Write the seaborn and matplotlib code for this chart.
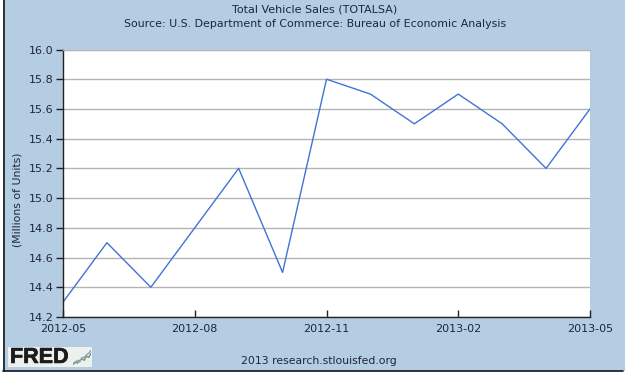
import matplotlib
matplotlib.use('Agg')
import matplotlib.pyplot as plt
import matplotlib.patheffects as pe
from matplotlib.lines import Line2D
from matplotlib.patches import Rectangle
import seaborn as sns
import pandas as pd

# monthly sales, millions of units
months = ['2012-05', '2012-06', '2012-07', '2012-08', '2012-09', '2012-10', '2012-11',
          '2012-12', '2013-01', '2013-02', '2013-03', '2013-04', '2013-05']
sales = [14.3, 14.7, 14.4, 14.8, 15.2, 14.5, 15.8, 15.7, 15.5, 15.7, 15.5, 15.2, 15.6]
yticks = [14.2, 14.4, 14.6, 14.8, 15.0, 15.2, 15.4, 15.6, 15.8, 16.0]
xlabels = ['2012-05', '2012-08', '2012-11', '2013-02', '2013-05']

# little chart in the logo
logo_a = [0, 2, 1, 3, 4, 3, 6, 5, 8]
logo_b = [1, 1, 3, 2, 5, 5, 7, 8, 10]

bg = '#b5cde3'
txt = '#1c2838'
W, H = 625, 374

sns.set_style('white')
plt.rcParams['font.family'] = ['DejaVu Sans']

df = pd.DataFrame({'month': months, 'sales': sales})
df['pos'] = range(len(df))

fig = plt.figure(figsize=(W / 100, H / 100), dpi=100, facecolor='white')
fig.patches.append(Rectangle((3 / W, 3 / H), 622 / W, 371 / H, transform=fig.transFigure,
                             facecolor=bg, edgecolor='none', zorder=-5))
# only left and bottom edges are dark
fig.add_artist(Line2D([3.5 / W, 3.5 / W], [3 / H, 1], color='#10151c', linewidth=1.2))
fig.add_artist(Line2D([3 / W, 623 / W], [3.5 / H, 3.5 / H], color='#10151c', linewidth=1.2))

ax = fig.add_axes([63 / W, 1 - 317 / H, 527 / W, 267.5 / H])
ax.set_facecolor('white')
sns.lineplot(data=df, x='pos', y='sales', color='#3f74d6', linewidth=1.0, ax=ax)
ax.set_xlim(0, len(months) - 1)
ax.set_ylim(14.2, 16.0)
ax.set_yticks(yticks)
ax.set_yticklabels(['%.1f' % v for v in yticks], fontsize=8, color=txt)
ax.set_xticks([months.index(m) for m in xlabels])
ax.set_xticklabels(xlabels, fontsize=8, color=txt)
ax.grid(axis='y', color='#b4b4b4', linewidth=1.0)
ax.grid(axis='x', visible=False)
ax.set_axisbelow(True)
ax.tick_params(axis='y', direction='out', length=5, width=1, color='#222222', pad=2, left=True)
ax.tick_params(axis='x', direction='in', length=5, width=1, color='#222222', pad=5, bottom=True)
ax.spines['right'].set_visible(False)
ax.spines['top'].set_color('#b4b4b4')
for s in ['left', 'bottom']:
    ax.spines[s].set_color('#222222')
    ax.spines[s].set_linewidth(1.0)
ax.set_xlabel('')
ax.set_ylabel('(Millions of Units)', fontsize=7.8, color=txt, labelpad=4, y=0.44)

fig.text(315 / W, 1 - 9 / H, 'Total Vehicle Sales (TOTALSA)', ha='center', va='center',
         fontsize=8, color=txt)
fig.text(315 / W, 1 - 24 / H, 'Source: U.S. Department of Commerce: Bureau of Economic Analysis',
         ha='center', va='center', fontsize=7.9, color=txt)
fig.text(319 / W, 1 - 361 / H, '2013 research.stlouisfed.org', ha='center', va='center',
         fontsize=7.8, color=txt)

# FRED logo
logo = fig.add_axes([8 / W, 1 - 367 / H, 84 / W, 20 / H])
logo.set_xlim(0, 84)
logo.set_ylim(0, 20)
logo.axis('off')
logo.add_patch(Rectangle((0, 0), 84, 20, facecolor='#eef0ee', edgecolor='none'))
t = logo.text(2, 9.6, 'FRED', fontsize=15.5, fontweight='bold', family='Liberation Sans',
              color='#1c1c1c', va='center', ha='left')
t.set_path_effects([pe.withStroke(linewidth=0.5, foreground='#1c1c1c')])

icon = fig.add_axes([73 / W, 1 - 366 / H, 18 / W, 17 / H])
icon.axis('off')
sns.lineplot(x=range(len(logo_a)), y=logo_a, color='#6f9a6a', linewidth=1, ax=icon)
sns.lineplot(x=range(len(logo_b)), y=logo_b, color='#8a9fb8', linewidth=1, ax=icon)
icon.margins(0)
icon.set_ylim(-1, 11)

fig.savefig('out.png', dpi=100, facecolor=fig.get_facecolor())
